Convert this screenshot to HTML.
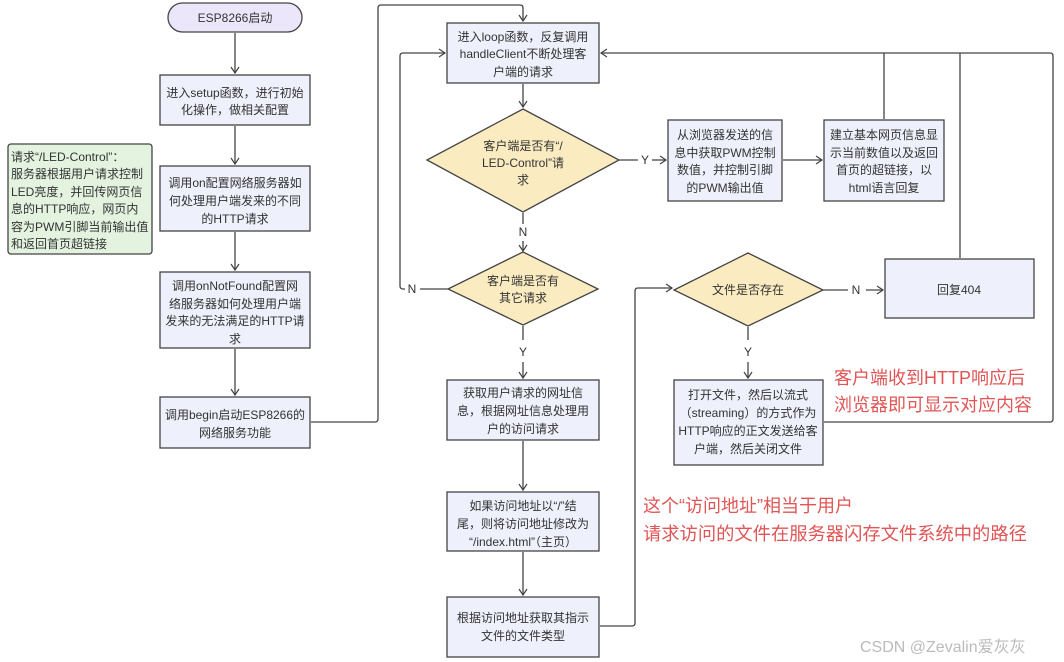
<!DOCTYPE html>
<html><head><meta charset="utf-8"><style>
html,body{margin:0;padding:0;background:#fff;}
svg{display:block;}
text{font-family:"Liberation Sans","Noto Sans CJK SC",sans-serif;font-size:12px;fill:#333;text-anchor:middle;}
.b{fill:#eef1fb;stroke:#444;stroke-width:1.3;}
.d{fill:#faecc0;stroke:#444;stroke-width:1.3;}
.l{fill:none;stroke:#444;stroke-width:1.3;}
.r{fill:#e05555;font-size:18px;text-anchor:start;}
</style></head><body>
<svg width="1064" height="662" viewBox="0 0 1064 662">
<defs><marker id="a" markerWidth="10" markerHeight="10" refX="8" refY="5" orient="auto" markerUnits="userSpaceOnUse"><path d="M2,1 L8,5 L2,9" fill="none" stroke="#444" stroke-width="1.2"/></marker></defs>

<!-- left column -->
<rect x="168" y="3" width="134" height="29" rx="14.5" fill="#ece6fa" stroke="#444" stroke-width="1.3"/>
<text x="235" y="22">ESP8266启动</text>
<line class="l" x1="235" y1="33" x2="235" y2="73" marker-end="url(#a)"/>
<rect class="b" x="160" y="75" width="150" height="50"/>
<text x="235" y="97">进入setup函数，进行初始</text><text x="235" y="114">化操作，做相关配置</text>
<line class="l" x1="235" y1="126" x2="235" y2="164" marker-end="url(#a)"/>
<rect class="b" x="160" y="166" width="150" height="65"/>
<text x="235" y="187">调用on配置网络服务器如</text><text x="235" y="205">何处理用户端发来的不同</text><text x="235" y="223">的HTTP请求</text>
<line class="l" x1="235" y1="232" x2="235" y2="270" marker-end="url(#a)"/>
<rect class="b" x="160" y="272" width="150" height="76"/>
<text x="235" y="290">调用onNotFound配置网</text><text x="235" y="308">络服务器如何处理用户端</text><text x="235" y="325">发来的无法满足的HTTP请</text><text x="235" y="343">求</text>
<line class="l" x1="235" y1="349" x2="235" y2="395" marker-end="url(#a)"/>
<rect class="b" x="160" y="397" width="150" height="51"/>
<text x="235" y="419">调用begin启动ESP8266的</text><text x="235" y="437">网络服务功能</text>

<rect x="8" y="144" width="144" height="110" rx="3" fill="#e3f3e0" stroke="#444" stroke-width="1.3"/>
<text x="11" y="161" style="text-anchor:start">请求“/LED-Control”：</text>
<text x="11" y="178" style="text-anchor:start">服务器根据用户请求控制</text>
<text x="11" y="196" style="text-anchor:start">LED亮度，并回传网页信</text>
<text x="11" y="213" style="text-anchor:start">息的HTTP响应，网页内</text>
<text x="11" y="231" style="text-anchor:start">容为PWM引脚当前输出值</text>
<text x="11" y="248" style="text-anchor:start">和返回首页超链接</text>

<path class="l" d="M311,422 H375 Q378,422 378,419 V8 Q378,5 381,5 H520 Q523,5 523,8 V21" marker-end="url(#a)"/>

<!-- middle -->
<rect class="b" x="447" y="23" width="152" height="60"/>
<text x="523" y="41">进入loop函数，反复调用</text><text x="523" y="58">handleClient不断处理客</text><text x="523" y="76">户端的请求</text>
<line class="l" x1="523" y1="84" x2="523" y2="107" marker-end="url(#a)"/>
<polygon class="d" points="523,109 619,160 523,212 427,160"/>
<text x="523" y="150">客户端是否有“/</text><text x="523" y="167">LED-Control”请</text><text x="523" y="184">求</text>
<path class="l" d="M619,160 H638"/><text x="645" y="164">Y</text>
<line class="l" x1="652" y1="160" x2="666" y2="160" marker-end="url(#a)"/>
<rect class="b" x="668" y="120" width="114" height="81"/>
<text x="725" y="139">从浏览器发送的信</text><text x="725" y="157">息中获取PWM控制</text><text x="725" y="174">数值，并控制引脚</text><text x="725" y="192">的PWM输出值</text>
<line class="l" x1="783" y1="160" x2="822" y2="160" marker-end="url(#a)"/>
<rect class="b" x="824" y="120" width="120" height="81"/>
<text x="884" y="139">建立基本网页信息显</text><text x="884" y="157">示当前数值以及返回</text><text x="884" y="174">首页的超链接，以</text><text x="884" y="192">html语言回复</text>

<path class="l" d="M884,119 V53"/>
<path class="l" d="M1053,419 V56 Q1053,53 1050,53 H601" marker-end="url(#a)"/>
<path class="l" d="M960,258 V53"/>
<path class="l" d="M824,422 H1050 Q1053,422 1053,419"/>

<line class="l" x1="523" y1="213" x2="523" y2="224"/>
<text x="523" y="236">N</text>
<line class="l" x1="523" y1="241" x2="523" y2="251" marker-end="url(#a)"/>
<polygon class="d" points="523,252 598,289 523,325 448,289"/>
<text x="523" y="285">客户端是否有</text><text x="523" y="302">其它请求</text>
<path class="l" d="M448,289 H420"/><text x="412" y="293">N</text>
<path class="l" d="M405,289 H403 Q400,289 400,286 V56 Q400,53 403,53 H445" marker-end="url(#a)"/>
<line class="l" x1="523" y1="326" x2="523" y2="340"/>
<text x="523" y="356">Y</text>
<line class="l" x1="523" y1="362" x2="523" y2="378" marker-end="url(#a)"/>
<rect class="b" x="447" y="380" width="152" height="60"/>
<text x="523" y="397">获取用户请求的网址信</text><text x="523" y="415">息，根据网址信息处理用</text><text x="523" y="433">户的访问请求</text>
<line class="l" x1="523" y1="441" x2="523" y2="490" marker-end="url(#a)"/>
<rect class="b" x="447" y="492" width="152" height="59"/>
<text x="523" y="510">如果访问地址以“/”结</text><text x="523" y="528">尾，则将访问地址修改为</text><text x="523" y="546">“/index.html”（主页）</text>
<line class="l" x1="523" y1="552" x2="523" y2="595" marker-end="url(#a)"/>
<rect class="b" x="447" y="597" width="152" height="60"/>
<text x="523" y="622">根据访问地址获取其指示</text><text x="523" y="640">文件的文件类型</text>
<path class="l" d="M600,626 H632 Q635,626 635,623 V291 Q635,288 638,288 H672" marker-end="url(#a)"/>

<!-- right diamond -->
<polygon class="d" points="748,253 823,290 748,326 674,290"/>
<text x="748" y="294">文件是否存在</text>
<path class="l" d="M823,290 H848"/><text x="856" y="294">N</text>
<line class="l" x1="866" y1="290" x2="883" y2="290" marker-end="url(#a)"/>
<rect class="b" x="885" y="259" width="149" height="59"/>
<text x="959" y="294">回复404</text>
<line class="l" x1="748" y1="327" x2="748" y2="340"/>
<text x="748" y="356">Y</text>
<line class="l" x1="748" y1="362" x2="748" y2="378" marker-end="url(#a)"/>
<rect class="b" x="674" y="380" width="149" height="85"/>
<text x="748" y="399">打开文件，然后以流式</text><text x="748" y="417">（streaming）的方式作为</text><text x="748" y="435">HTTP响应的正文发送给客</text><text x="748" y="453">户端，然后关闭文件</text>

<text class="r" x="834" y="384">客户端收到HTTP响应后</text>
<text class="r" x="834" y="411">浏览器即可显示对应内容</text>
<text class="r" x="643" y="512">这个“访问地址”相当于用户</text>
<text class="r" x="643" y="540" style="font-size:18.3px">请求访问的文件在服务器闪存文件系统中的路径</text>
<text x="860" y="652" style="text-anchor:start;font-size:16px;fill:#bbb">CSDN @Zevalin爱灰灰</text>
</svg>
</body></html>
